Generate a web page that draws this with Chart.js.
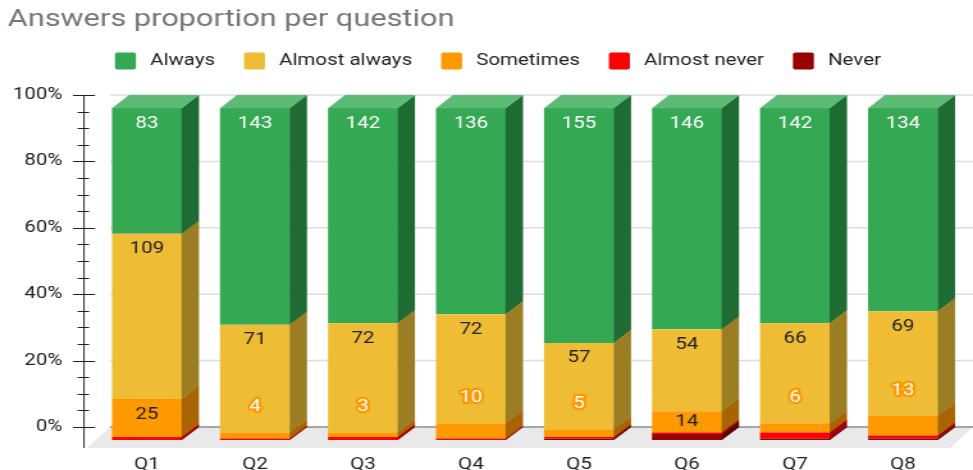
<!DOCTYPE html>
<html>
<head>
<meta charset="utf-8">
<title>Answers proportion per question</title>
<script src="https://cdn.jsdelivr.net/npm/chart.js@4.4.1/dist/chart.umd.min.js"></script>
<style>
  html, body { margin: 0; padding: 0; background: #fff; overflow: hidden; }
  /* the reference is stretched sideways, so the whole chart is drawn narrow and scaled */
  #wrap { width: 760px; height: 470px; transform: scale(1.2803, 1); transform-origin: 0 0; }
</style>
</head>
<body>
<div id="wrap"><canvas id="myChart" width="760" height="470"></canvas></div>
<script>
'use strict';
let questions = ['Q1', 'Q2', 'Q3', 'Q4', 'Q5', 'Q6', 'Q7', 'Q8'];
let answerNames = ['Always', 'Almost always', 'Sometimes', 'Almost never', 'Never'];
let always = [83, 143, 142, 136, 155, 146, 142, 134];
let almostAlways = [109, 71, 72, 72, 57, 54, 66, 69];
let sometimes = [25, 4, 3, 10, 5, 14, 6, 13];
let almostNever = [2, 1, 2, 1, 1, 1, 4, 2];
let never = [0, 0, 0, 0, 1, 4, 1, 1];
let yTicks = [0, 20, 40, 60, 80, 100];

let answers = [always, almostAlways, sometimes, almostNever, never];
let frontColors = ['#34a853', '#eebd35', '#ff9900', '#ff0000', '#990000'];
let sideColors = ['#1f6b34', '#9b7e24', '#a86400', '#a80000', '#5e0000'];
let topColor = '#5bbb74';
let labelColors = ['#ffffff', '#222222', '#222222'];

let dx = 13.3; // depth of the boxes, sideways
let dy = 13;   // depth of the boxes, upwards

let totals = questions.map((q, j) => answers.reduce((sum, arr) => sum + arr[j], 0));

// stacking starts at the bottom, so the last answer goes first
let datasets = [];
for (let i = answers.length - 1; i >= 0; i--) {
  datasets.push({
    label: answerNames[i],
    data: answers[i].map((v, j) => v / totals[j] * 100),
    backgroundColor: frontColors[i],
    borderWidth: 0,
    barPercentage: 0.648,
    categoryPercentage: 1
  });
}
function metaFor(chart, i) {
  return chart.getDatasetMeta(answers.length - 1 - i);
}

let box3d = {
  id: 'box3d',
  beforeDatasetsDraw(chart) {
    let ctx = chart.ctx;
    let area = chart.chartArea;
    let yScale = chart.scales.y;
    ctx.save();
    // floor
    ctx.fillStyle = '#e9e9e9';
    ctx.beginPath();
    ctx.moveTo(area.left + dx, area.bottom);
    ctx.lineTo(chart.width, area.bottom);
    ctx.lineTo(chart.width - 18, area.bottom + 21);
    ctx.lineTo(area.left + dx - 18, area.bottom + 21);
    ctx.closePath();
    ctx.fill();
    // grid on the back wall
    ctx.lineWidth = 1.5;
    ctx.strokeStyle = '#dedede';
    for (let v of yTicks) {
      if (v === 0) continue;
      let py = yScale.getPixelForValue(v);
      ctx.beginPath();
      ctx.moveTo(area.left + dx, py);
      ctx.lineTo(chart.width, py);
      ctx.stroke();
    }
    ctx.strokeStyle = '#8c8c8c';
    ctx.beginPath();
    ctx.moveTo(area.left + dx, area.bottom);
    ctx.lineTo(chart.width, area.bottom);
    ctx.stroke();
    // axis line with big and small ticks
    let ax = area.left - 7;
    ctx.strokeStyle = '#222';
    ctx.lineWidth = 1;
    ctx.beginPath();
    ctx.moveTo(ax, area.top);
    ctx.lineTo(ax, area.bottom + 21);
    for (let v = 0; v <= 100; v += 5) {
      let py = Math.round(yScale.getPixelForValue(v)) + 0.5;
      let big = yTicks.indexOf(v) !== -1;
      ctx.moveTo(ax - (big ? 8.6 : 5), py);
      ctx.lineTo(ax + (big ? 8.6 : 4), py);
    }
    ctx.stroke();
    ctx.restore();
    // front faces sit lower than the back wall
    ctx.save();
    ctx.translate(0, dy);
  },
  afterDatasetsDraw(chart) {
    let ctx = chart.ctx;
    ctx.restore();
    ctx.save();
    for (let i = 0; i < answers.length; i++) {
      let meta = metaFor(chart, i);
      meta.data.forEach((bar, j) => {
        let p = bar.getProps(['x', 'y', 'base', 'width'], true);
        let right = p.x + p.width / 2;
        let left = p.x - p.width / 2;
        let top = Math.min(p.y, p.base);
        let bot = Math.max(p.y, p.base);
        if (answers[i][j] === 0) return;
        ctx.fillStyle = sideColors[i];
        ctx.beginPath();
        ctx.moveTo(right - 0.3, top + dy);
        ctx.lineTo(right + dx, top);
        ctx.lineTo(right + dx, bot + 0.3);
        ctx.lineTo(right - 0.3, bot + dy + 0.3);
        ctx.closePath();
        ctx.fill();
        if (i === 0) {
          ctx.fillStyle = topColor;
          ctx.beginPath();
          ctx.moveTo(left, top + dy + 0.3);
          ctx.lineTo(left + dx, top);
          ctx.lineTo(right + dx, top);
          ctx.lineTo(right, top + dy + 0.3);
          ctx.closePath();
          ctx.fill();
        }
      });
    }
    // value labels for the first three answers
    ctx.font = '16px Roboto';
    ctx.textAlign = 'center';
    ctx.textBaseline = 'middle';
    ctx.lineJoin = 'round';
    for (let i = 0; i < 3; i++) {
      let meta = metaFor(chart, i);
      meta.data.forEach((bar, j) => {
        let p = bar.getProps(['x', 'y', 'base'], true);
        let top = Math.min(p.y, p.base) + dy;
        let bot = Math.max(p.y, p.base) + dy;
        let text = String(answers[i][j]);
        if (bot - top >= 20.5) {
          ctx.fillStyle = labelColors[i];
          ctx.fillText(text, p.x, Math.min(top + 15.5, (top + bot) / 2));
        } else {
          // too thin: label goes above the segment, white with an outline
          ctx.lineWidth = 4.5;
          ctx.strokeStyle = frontColors[i];
          ctx.strokeText(text, p.x, top - 25);
          ctx.fillStyle = '#ffffff';
          ctx.fillText(text, p.x, top - 25);
        }
      });
    }
    ctx.restore();
  },
  afterDraw(chart) {
    // legend row
    let ctx = chart.ctx;
    ctx.save();
    ctx.font = '16px Roboto';
    ctx.textBaseline = 'middle';
    ctx.textAlign = 'left';
    let x = 89.8;
    let cy = 61;
    for (let i = 0; i < answerNames.length; i++) {
      ctx.fillStyle = frontColors[i];
      ctx.beginPath();
      ctx.roundRect(x, cy - 8.5, 16.4, 17, 2);
      ctx.fill();
      x += 16.4 + 11;
      ctx.fillStyle = '#222';
      ctx.fillText(answerNames[i], x, cy);
      x += ctx.measureText(answerNames[i]).width + 22.6;
    }
    ctx.restore();
  }
};

Chart.defaults.font.family = 'Roboto';
let ctx = document.getElementById('myChart').getContext('2d');
let myChart = new Chart(ctx, {
  type: 'bar',
  data: {
    labels: questions,
    datasets: datasets
  },
  options: {
    responsive: false,
    animation: false,
    layout: {
      padding: { left: 6, right: 12.5, top: 0, bottom: 0 }
    },
    plugins: {
      legend: { display: false },
      tooltip: { enabled: false },
      title: {
        display: true,
        text: 'Answers proportion per question',
        align: 'start',
        color: '#757575',
        font: { size: 24, weight: 'normal' },
        padding: { top: 5.6, bottom: 60.6 }
      }
    },
    scales: {
      x: {
        stacked: true,
        grid: { display: false, drawTicks: false },
        border: { display: false },
        ticks: { color: '#222', font: { size: 16 }, padding: 28.5, maxRotation: 0 },
        afterFit(scale) { scale.height = 43; }
      },
      y: {
        stacked: true,
        min: 0,
        max: 100,
        grid: { display: false, drawTicks: false },
        border: { display: false },
        ticks: {
          stepSize: 20,
          color: '#222',
          font: { size: 16 },
          padding: 24,
          callback: (v) => yTicks.indexOf(v) !== -1 ? v + '%' : ''
        },
        afterFit(scale) { scale.width = 66.6; }
      }
    }
  },
  plugins: [box3d]
});
</script>
</body>
</html>
